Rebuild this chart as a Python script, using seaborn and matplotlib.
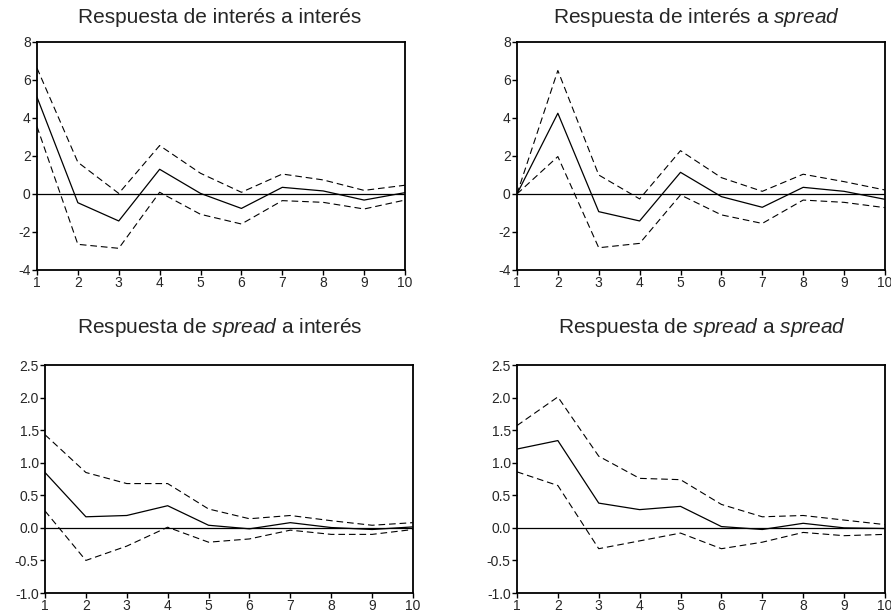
import pandas as pd
import seaborn as sns
import matplotlib
matplotlib.use('Agg')
import matplotlib.pyplot as plt

periods = [1, 2, 3, 4, 5, 6, 7, 8, 9, 10]

# respuesta de interés a interés
ii_resp = [5.10, -0.46, -1.42, 1.30, 0.03, -0.76, 0.35, 0.16, -0.32, 0.07]
ii_upper = [6.63, 1.67, 0.03, 2.55, 1.09, 0.09, 1.05, 0.74, 0.19, 0.46]
ii_lower = [3.55, -2.65, -2.86, 0.09, -1.07, -1.58, -0.35, -0.44, -0.79, -0.32]

# respuesta de interés a spread
is_resp = [0.0, 4.25, -0.93, -1.42, 1.14, -0.14, -0.70, 0.35, 0.14, -0.28]
is_upper = [0.0, 6.50, 1.00, -0.26, 2.28, 0.86, 0.14, 1.04, 0.65, 0.21]
is_lower = [0.0, 1.97, -2.83, -2.60, -0.05, -1.10, -1.55, -0.32, -0.44, -0.72]

# respuesta de spread a interés
si_resp = [0.85, 0.17, 0.19, 0.34, 0.04, -0.015, 0.08, 0.005, -0.025, 0.015]
si_upper = [1.43, 0.85, 0.68, 0.68, 0.29, 0.14, 0.19, 0.11, 0.04, 0.08]
si_lower = [0.26, -0.50, -0.28, 0.01, -0.22, -0.17, -0.035, -0.10, -0.10, -0.025]

# respuesta de spread a spread
ss_resp = [1.21, 1.34, 0.38, 0.28, 0.33, 0.02, -0.025, 0.07, 0.0, -0.01]
ss_upper = [1.57, 2.01, 1.10, 0.76, 0.74, 0.36, 0.17, 0.19, 0.12, 0.05]
ss_lower = [0.86, 0.65, -0.32, -0.20, -0.08, -0.32, -0.22, -0.07, -0.12, -0.10]

titles = [
    'Respuesta de interés a interés',
    r'Respuesta de interés a $\mathit{spread}$',
    r'Respuesta de $\mathit{spread}$ a interés',
    r'Respuesta de $\mathit{spread}$ a $\mathit{spread}$',
]

sns.set_style('white')
plt.rcParams['font.family'] = ['Liberation Sans', 'DejaVu Sans']
plt.rcParams['mathtext.fontset'] = 'custom'
plt.rcParams['mathtext.rm'] = 'Liberation Sans'
plt.rcParams['mathtext.it'] = 'Liberation Sans:italic'

fig = plt.figure(figsize=(8.91, 6.14), dpi=100)

panels = [
    ([0.0415, 0.5603, 0.413, 0.3713], ii_resp, ii_upper, ii_lower, (-4, 8), [-4, -2, 0, 2, 4, 6, 8], '{:.0f}', (0.247, 0.972)),
    ([0.5802, 0.5603, 0.413, 0.3713], is_resp, is_upper, is_lower, (-4, 8), [-4, -2, 0, 2, 4, 6, 8], '{:.0f}', (0.782, 0.972)),
    ([0.0505, 0.0342, 0.413, 0.3713], si_resp, si_upper, si_lower, (-1, 2.5), [-1, -0.5, 0, 0.5, 1, 1.5, 2, 2.5], '{:.1f}', (0.247, 0.467)),
    ([0.5802, 0.0342, 0.413, 0.3713], ss_resp, ss_upper, ss_lower, (-1, 2.5), [-1, -0.5, 0, 0.5, 1, 1.5, 2, 2.5], '{:.1f}', (0.788, 0.467)),
]

for i, (rect, resp, upper, lower, ylim, yticks, fmt, tpos) in enumerate(panels):
    ax = fig.add_axes(rect)
    df = pd.DataFrame({'periodo': periods, 'resp': resp, 'upper': upper, 'lower': lower})
    ax.axhline(0, color='black', linewidth=0.9)
    sns.lineplot(data=df, x='periodo', y='upper', color='black', linewidth=0.8,
                 linestyle=(0, (6, 3.5)), ax=ax)
    sns.lineplot(data=df, x='periodo', y='lower', color='black', linewidth=0.8,
                 linestyle=(0, (6, 3.5)), ax=ax)
    sns.lineplot(data=df, x='periodo', y='resp', color='black', linewidth=0.9, ax=ax)
    ax.set_xlim(1, 10)
    ax.set_ylim(*ylim)
    ax.set_xticks(periods)
    ax.set_yticks(yticks)
    ax.set_yticklabels([fmt.format(v) for v in yticks])
    ax.set_xlabel('')
    ax.set_ylabel('')
    for s in ax.spines.values():
        s.set_visible(True)
        s.set_color('black')
        s.set_linewidth(1.3)
    ax.tick_params(axis='both', which='both', direction='out', length=3.5, width=1,
                   color='black', labelsize=10, pad=1, bottom=True, left=True)
    fig.text(tpos[0], tpos[1], titles[i], ha='center', va='center', fontsize=15)

fig.savefig('out.png', dpi=100)
